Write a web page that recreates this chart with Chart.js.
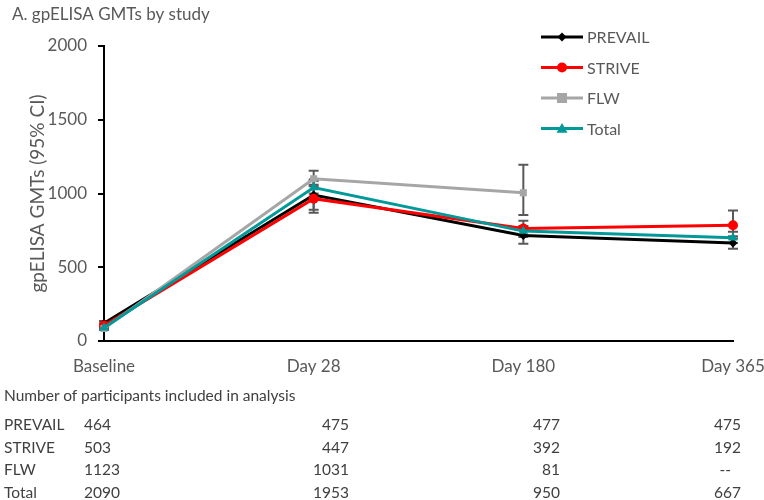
<!DOCTYPE html>
<html>
<head>
<meta charset="utf-8">
<script src="https://cdn.jsdelivr.net/npm/chart.js@4/dist/chart.umd.min.js"></script>
<style>
  html, body { margin: 0; padding: 0; background: #fff; }
  #wrap { position: relative; width: 764px; height: 500px; overflow: hidden; }
  #chart { position: absolute; left: 0; top: 0; }
  .cell { position: absolute; font-family: Lato, "Open Sans", sans-serif; font-size: 15.5px; line-height: 20px; color: #404040; white-space: nowrap; }
</style>
</head>
<body>
<div id="wrap">
  <canvas id="chart" width="764" height="500"></canvas>
  <div id="table"></div>
</div>
<script>
// Time points
const timepoints = ['Baseline', 'Day 28', 'Day 180', 'Day 365'];

// Geometric mean titres per study
const prevail = [120, 990, 715, 665];
const strive  = [105, 965, 762, 785];
const flw     = [85, 1100, 1005, null];
const total   = [90, 1040, 745, 700];

// 95% confidence limits
const prevailLow  = [105, 890, 660, 625];
const prevailHigh = [135, 1095, 775, 710];
const striveLow   = [90, 870, 705, 695];
const striveHigh  = [120, 1060, 815, 885];
const flwLow      = [75, 1050, 855, null];
const flwHigh     = [95, 1155, 1195, null];
const totalLow    = [82, 1000, 720, 665];
const totalHigh   = [98, 1085, 780, 740];

// Participants included in analysis
const studies = ['PREVAIL', 'STRIVE', 'FLW', 'Total'];
const nPrevail = ['464', '475', '477', '475'];
const nStrive  = ['503', '447', '392', '192'];
const nFlw     = ['1123', '1031', '81', '--'];
const nTotal   = ['2090', '1953', '950', '667'];

const FONT = 'Lato, "Open Sans", sans-serif';
const GREY_TEXT = '#595959';

const seriesDefs = [
  { label: 'PREVAIL', data: prevail, low: prevailLow, high: prevailHigh, color: '#000000', style: 'rectRot', radius: 4.5, order: 4 },
  { label: 'STRIVE',  data: strive,  low: striveLow,  high: striveHigh,  color: '#ff0000', style: 'circle',  radius: 5,   order: 3 },
  { label: 'FLW',     data: flw,     low: flwLow,     high: flwHigh,     color: '#a6a6a6', style: 'rect',    radius: 5,   order: 2 },
  { label: 'Total',   data: total,   low: totalLow,   high: totalHigh,   color: '#009999', style: 'triangle',radius: 5.5, order: 1 }
];

function drawMarker(ctx, style, x, y, r, color) {
  ctx.save();
  ctx.fillStyle = color;
  ctx.beginPath();
  if (style === 'circle') {
    ctx.arc(x, y, r, 0, Math.PI * 2);
  } else if (style === 'rect') {
    ctx.rect(x - r, y - r, 2 * r, 2 * r);
  } else if (style === 'rectRot') {
    ctx.moveTo(x, y - r); ctx.lineTo(x + r, y); ctx.lineTo(x, y + r); ctx.lineTo(x - r, y); ctx.closePath();
  } else if (style === 'triangle') {
    ctx.moveTo(x, y - r); ctx.lineTo(x + r, y + r * 0.75); ctx.lineTo(x - r, y + r * 0.75); ctx.closePath();
  }
  ctx.fill();
  ctx.restore();
}

// Confidence-interval whiskers, drawn under the lines
const errorBars = {
  id: 'errorBars',
  beforeDatasetsDraw(chart) {
    const ctx = chart.ctx;
    const xs = chart.scales.x, ys = chart.scales.y;
    ctx.save();
    ctx.strokeStyle = '#595959';
    ctx.lineWidth = 2;
    seriesDefs.forEach(s => {
      s.low.forEach((lo, i) => {
        const hi = s.high[i];
        if (lo == null || hi == null) return;
        const x = xs.getPixelForValue(i);
        const y1 = ys.getPixelForValue(lo), y2 = ys.getPixelForValue(hi);
        ctx.beginPath();
        ctx.moveTo(x, y1); ctx.lineTo(x, y2);
        ctx.moveTo(x - 5, y1); ctx.lineTo(x + 5, y1);
        ctx.moveTo(x - 5, y2); ctx.lineTo(x + 5, y2);
        ctx.stroke();
      });
    });
    ctx.restore();
  }
};

// Vertical legend in the upper right
const sideLegend = {
  id: 'sideLegend',
  afterDraw(chart) {
    const ctx = chart.ctx;
    ctx.save();
    seriesDefs.forEach((s, i) => {
      const y = 37 + i * 30.5;
      ctx.strokeStyle = s.color;
      ctx.lineWidth = 3;
      ctx.beginPath();
      ctx.moveTo(541, y); ctx.lineTo(583, y);
      ctx.stroke();
      drawMarker(ctx, s.style, 562, y, s.radius, s.color);
      ctx.fillStyle = GREY_TEXT;
      ctx.font = '16px ' + FONT;
      ctx.textBaseline = 'middle';
      ctx.textAlign = 'left';
      ctx.fillText(s.label, 587, y + 1);
    });
    ctx.restore();
  }
};

new Chart(document.getElementById('chart'), {
  type: 'line',
  data: {
    labels: timepoints,
    datasets: seriesDefs.map(s => ({
      label: s.label,
      data: s.data,
      borderColor: s.color,
      backgroundColor: s.color,
      borderWidth: 3,
      pointStyle: s.style,
      pointRadius: s.radius,
      pointBorderWidth: 0,
      pointBackgroundColor: s.color,
      tension: 0,
      spanGaps: false,
      order: s.order
    }))
  },
  options: {
    responsive: false,
    animation: false,
    layout: { padding: { left: 12, right: 31, top: 4, bottom: 119 } },
    plugins: {
      legend: { display: false },
      tooltip: { enabled: false },
      title: {
        display: true,
        text: 'A. gpELISA GMTs by study',
        align: 'start',
        color: GREY_TEXT,
        font: { family: FONT, size: 17, weight: 'normal' },
        padding: { top: 0, bottom: 21.6 }
      }
    },
    scales: {
      x: {
        offset: false,
        grid: { display: true, drawOnChartArea: false, drawTicks: false },
        border: { display: true, color: '#000', width: 2 },
        ticks: { color: GREY_TEXT, font: { family: FONT, size: 17 }, padding: 15, maxRotation: 0, autoSkip: false },
        afterFit(scale) {
          scale.height = 40;
          scale.paddingLeft = 0;
          scale.paddingRight = 0;
        }
      },
      y: {
        min: 0, max: 2000,
        ticks: {
          stepSize: 500, color: GREY_TEXT, font: { family: FONT, size: 17 }, padding: 11,
          callback: v => String(v)
        },
        grid: { display: true, drawOnChartArea: false, drawTicks: true, tickLength: 6, color: '#000', lineWidth: 2 },
        border: { display: true, color: '#000', width: 2 },
        title: {
          display: true,
          text: 'gpELISA GMTs (95% CI)',
          color: GREY_TEXT,
          font: { family: FONT, size: 19 },
          padding: { top: 14.5, bottom: 0 }
        },
        afterFit(scale) { scale.width = 92; }
      }
    }
  },
  plugins: [errorBars, sideLegend]
});

// Participant counts table under the chart
(function buildTable() {
  const host = document.getElementById('table');
  const add = (text, css) => {
    const d = document.createElement('div');
    d.className = 'cell';
    d.textContent = text;
    Object.assign(d.style, css);
    host.appendChild(d);
  };
  add('Number of participants included in analysis', { left: '4px', top: '385px' });
  const rows = [nPrevail, nStrive, nFlw, nTotal];
  const rowY = [424, 447, 469, 492];
  const colRight = [null, 349, 560, 741];
  rows.forEach((vals, r) => {
    const top = (rowY[r] - 10) + 'px';
    add(studies[r], { left: '4px', top });
    add(vals[0], { left: '84px', top });
    for (let c = 1; c < vals.length; c++) {
      const right = colRight[c] - (vals[c] === '--' ? 10 : 0);
      add(vals[c], { right: (764 - right) + 'px', top });
    }
  });
})();
</script>
</body>
</html>
